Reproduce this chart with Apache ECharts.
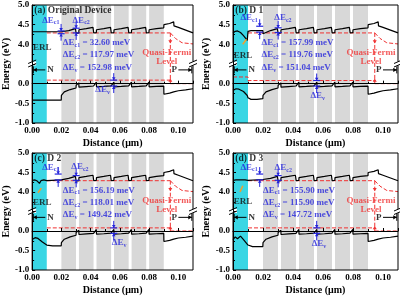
<!DOCTYPE html>
<html>
<head>
<meta charset="utf-8">
<script src="https://cdn.jsdelivr.net/npm/echarts@6/dist/echarts.min.js"></script>
<style>
  html, body { margin: 0; padding: 0; background: #fff; }
  #chart { width: 400px; height: 296px; }
</style>
</head>
<body>
<div id="chart"></div>
<script>
// 标题与ΔE数值
const titles = ["(a) Original Device", "(b) D 1", "(c) D 2", "(d) D 3"];
const dEc1 = ["32.60", "157.99", "156.19", "155.90"];
const dEc2 = ["117.97", "119.76", "118.01", "115.90"];
const dEv = ["152.98", "151.04", "149.42", "147.72"];

// 区域 (μm)
const erlRange = [0, 0.01];
const barriers = [[0.02, 0.03], [0.032, 0.042], [0.044, 0.054], [0.056, 0.066], [0.068, 0.078], [0.08, 0.09]];

// 导带 ERL 段
const ecHeadA = [[0, 4.32], [0.0199, 4.32], [0.02, 4.27]];
const ecHeadB = [[0, 4.29], [0.0015, 4.33], [0.003, 4.34], [0.005, 4.3], [0.007, 4.22], [0.0095, 4.1], [0.0099, 4.08], [0.01, 4.33], [0.012, 4.35], [0.0199, 4.35], [0.02, 4.27]];
const ecHeadC = [[0, 4.3], [0.001, 4.27], [0.002, 4.31], [0.0035, 4.28], [0.005, 4.22], [0.006, 4.29], [0.008, 4.31], [0.01, 4.29], [0.0199, 4.31], [0.02, 4.27]];
const ecHeadD = [[0, 4.3], [0.001, 4.27], [0.002, 4.31], [0.003, 4.27], [0.004, 4.31], [0.005, 4.26], [0.006, 4.31], [0.007, 4.27], [0.008, 4.31], [0.009, 4.28], [0.01, 4.3], [0.0199, 4.32], [0.02, 4.27]];
// 价带 ERL 段
const evHeadA = [[0, -0.42], [0.0199, -0.42], [0.02, -0.3]];
const evHeadB = [[0, -0.17], [0.002, -0.13], [0.004, -0.14], [0.007, -0.2], [0.0095, -0.3], [0.01, -0.36], [0.012, -0.4], [0.016, -0.4], [0.0199, -0.38], [0.02, -0.3]];
const evHeadC = [[0, -0.22], [0.002, -0.17], [0.004, -0.19], [0.007, -0.28], [0.01, -0.36], [0.014, -0.38], [0.0199, -0.38], [0.02, -0.3]];
const evHeadD = [[0, -0.22], [0.0015, -0.15], [0.003, -0.2], [0.005, -0.13], [0.007, -0.22], [0.01, -0.36], [0.013, -0.4], [0.0199, -0.4], [0.02, -0.3]];

// MQW + EBL + P 段
const ecMqw = [
  [0.0205, 4.29], [0.025, 4.35], [0.0296, 4.4], [0.03, 4.42],
  [0.0301, 4.28], [0.0319, 4.29], [0.032, 4.37], [0.037, 4.4], [0.0416, 4.43], [0.042, 4.45],
  [0.0421, 4.29], [0.0439, 4.3], [0.044, 4.37], [0.049, 4.4], [0.0536, 4.43], [0.054, 4.45],
  [0.0541, 4.29], [0.0559, 4.3], [0.056, 4.37], [0.061, 4.4], [0.0656, 4.43], [0.066, 4.45],
  [0.0661, 4.29], [0.0679, 4.3], [0.068, 4.37], [0.073, 4.4], [0.0776, 4.43], [0.078, 4.45],
  [0.0781, 4.29], [0.0799, 4.3], [0.08, 4.37], [0.085, 4.4], [0.09, 4.42],
  [0.0901, 4.5], [0.094, 4.53], [0.0968, 4.57], [0.097, 4.47], [0.1, 4.43], [0.105, 4.36], [0.11, 4.29]
];
const evMqw = [
  [0.0205, -0.27], [0.022, -0.21], [0.026, -0.15], [0.03, -0.11],
  [0.0301, -0.04], [0.0319, 0.02], [0.032, -0.09], [0.037, -0.075], [0.042, -0.06],
  [0.0421, -0.01], [0.0439, 0.04], [0.044, -0.08], [0.049, -0.07], [0.054, -0.055],
  [0.0541, -0.01], [0.0559, 0.04], [0.056, -0.08], [0.061, -0.07], [0.066, -0.055],
  [0.0661, -0.01], [0.0679, 0.04], [0.068, -0.08], [0.073, -0.07], [0.078, -0.055],
  [0.0781, -0.01], [0.0799, 0.04], [0.08, -0.08], [0.085, -0.07], [0.09, -0.06],
  [0.0901, -0.27], [0.094, -0.24], [0.0968, -0.21], [0.097, -0.19], [0.1, -0.18], [0.105, -0.16], [0.11, -0.13]
];

// 准费米能级
const fnLevel = [[0.01, 4.29], [0.0945, 4.29]];
const fnTail = [[0.0945, 4.29], [0.098, 4.15], [0.1025, 4.04], [0.11, 4.01]];
const fpLevelA = [[0.01, 0.09], [0.0945, 0.09]];
const fpLevelB = [[0, 0.17], [0.01, 0.17], [0.01, 0.08], [0.0945, 0.08]];
const fpLevelC = [[0.01, 0.08], [0.0945, 0.08]];
const fpLevelD = [[0.01, 0.08], [0.0945, 0.08]];
const fpTail = [[0.0945, 0.0], [0.11, 0.0]];
const qflLink = [[0.0945, 4.29], [0.0945, 0.0]];

// ΔE 标记 [x, 上, 下]
const markEc1 = [[0.0198, 4.34, 4.27], [0.0178, 4.46, 4.31], [0.0178, 4.46, 4.31], [0.0178, 4.46, 4.31]];
const markEc2 = [[0.0301, 4.41, 4.29], [0.0301, 4.42, 4.3], [0.0301, 4.42, 4.3], [0.0301, 4.42, 4.3]];
const markEv = [[0.0558, 0.09, -0.06], [0.0558, 0.08, -0.06], [0.0558, 0.08, -0.06], [0.0558, 0.08, -0.06]];
// 标签位置
const labEc1 = [[0.0128, 4.6], [0.0107, 4.66], [0.0128, 4.62], [0.0107, 4.62]];
const labEc2 = [[0.0335, 4.6], [0.0333, 4.66], [0.0327, 4.64], [0.0335, 4.6]];
const labEv = [[0.0482, -0.16], [0.0565, -0.33], [0.0595, -0.32], [0.0573, -0.34]];
const blockX = [0.021, 0.019, 0.021, 0.02];
const blockE = [4.03, 3.715, 0.397];
const erlPos = [[0.0005, 3.91], [0.0005, 3.7], [0.0005, 3.73], [0.0005, 3.75]];
const orangeMark = [null, [0.0065, 4.0, 0.009, 4.13], [0.004, 3.98, 0.0063, 4.1], [0.0047, 4.0, 0.0065, 4.16]];

const FONT = "Liberation Serif";
const BLUE = "#2424dc";
const RED = "#f03232";
const CYAN = "#3ad6e4";
const GRAY = "#d8d8d8";

// 断轴映射：上段 3.5~5.0 接在 0.5 之上
const m = (e) => (e > 2 ? e - 3 : e);
const mp = (arr) => arr.map((p) => [p[0], m(p[1])]);

const grids = [
  { left: 29, top: 5, width: 164, height: 118 },
  { left: 233, top: 5, width: 165, height: 118 },
  { left: 29, top: 153, width: 164, height: 118 },
  { left: 233, top: 153, width: 165, height: 118 },
];

const ecHeads = [ecHeadA, ecHeadB, ecHeadC, ecHeadD];
const evHeads = [evHeadA, evHeadB, evHeadC, evHeadD];
const fpLevels = [fpLevelA, fpLevelB, fpLevelC, fpLevelD];

const bold = (size, color) => ({ fontFamily: FONT, fontWeight: "bold", fontSize: size, color: color || "#000" });

const rich = {
  b: { ...bold(9, BLUE), lineHeight: 10, verticalAlign: "top" },
  s: { ...bold(6, BLUE), lineHeight: 6, verticalAlign: "bottom", padding: [4, 0, 0, 0] },
};

const txt = (x, e, text, style, align) => ({
  value: [x, m(e)],
  label: { show: true, position: "inside", align: align || "left", verticalAlign: "middle", formatter: text, ...style },
});

const tri = (x, y, dir, s) => {
  // 箭头三角
  if (dir === "down") return [[x, y], [x - s, y - s * 1.6], [x + s, y - s * 1.6]];
  if (dir === "up") return [[x, y], [x - s, y + s * 1.6], [x + s, y + s * 1.6]];
  if (dir === "left") return [[x, y], [x + s * 1.6, y - s], [x + s * 1.6, y + s]];
  return [[x, y], [x - s * 1.6, y - s], [x - s * 1.6, y + s]];
};

const lineSeries = (i, data, color, width, dashed, z) => ({
  type: "line",
  xAxisIndex: i,
  yAxisIndex: i,
  data: mp(data),
  showSymbol: false,
  symbol: "none",
  silent: true,
  animation: false,
  z: z || 3,
  lineStyle: { color, width, type: dashed ? [4, 2] : "solid" },
});

const series = [];
for (let i = 0; i < 4; i++) {
  // 背景色块
  const blocks = [[erlRange[0], erlRange[1], 1]].concat(barriers.map((b) => [b[0], b[1], 0]));
  series.push({
    type: "custom",
    xAxisIndex: i,
    yAxisIndex: i,
    silent: true,
    animation: false,
    z: 1,
    data: blocks,
    renderItem: (params, api) => {
      const p0 = api.coord([api.value(0), 2]);
      const p1 = api.coord([api.value(1), -1]);
      return {
        type: "rect",
        shape: { x: p0[0], y: p0[1], width: p1[0] - p0[0], height: p1[1] - p0[1] },
        style: { fill: api.value(2) === 1 ? CYAN : GRAY },
      };
    },
  });

  series.push(lineSeries(i, ecHeads[i].concat(ecMqw), "#000", 1.2));
  series.push(lineSeries(i, evHeads[i].concat(evMqw), "#000", 1.2));
  series.push(lineSeries(i, fnLevel, RED, 1, true, 2));
  series.push(lineSeries(i, fnTail, RED, 1, true, 2));
  series.push(lineSeries(i, fpLevels[i], RED, 1, true, 2));
  series.push(lineSeries(i, fpTail, RED, 1, true, 2));
  series.push(lineSeries(i, qflLink, RED, 1, true, 2));

  // 注释图形：断轴、N/P 箭头、ΔE 标记、橙色标记
  const anno = [
    [0, 0, 0.5, 0, 0],
    [0, 0.11, 0.5, 0, 0],
    [1, 0.009, m(0.35), 0.0008, 0],
    [1, 0.1, m(0.35), 0.1092, 0],
    [2, markEc1[i][0], m(markEc1[i][1]), m(markEc1[i][2]), 0],
    [2, markEc2[i][0], m(markEc2[i][1]), m(markEc2[i][2]), 0],
    [2, markEv[i][0], m(markEv[i][1]), m(markEv[i][2]), 0],
    [3, 0.0945, m(4.02), 0, 0],
    [4, 0.0945, m(0.13), 0, 0],
  ];
  if (orangeMark[i]) {
    const o = orangeMark[i];
    anno.push([5, o[0], m(o[1]), o[2], m(o[3])]);
  }
  series.push({
    type: "custom",
    xAxisIndex: i,
    yAxisIndex: i,
    silent: true,
    animation: false,
    clip: false,
    z: 6,
    data: anno,
    renderItem: (params, api) => {
      const k = api.value(0);
      const p = api.coord([api.value(1), api.value(2)]);
      if (k === 0) {
        return {
          type: "group",
          children: [
            { type: "rect", shape: { x: p[0] - 4, y: p[1] - 2.5, width: 8, height: 4 }, style: { fill: "#fff" } },
            { type: "line", shape: { x1: p[0] - 4, y1: p[1] - 0.5, x2: p[0] + 4, y2: p[1] - 4 }, style: { stroke: "#000", lineWidth: 1 } },
            { type: "line", shape: { x1: p[0] - 4, y1: p[1] + 3, x2: p[0] + 4, y2: p[1] - 0.5 }, style: { stroke: "#000", lineWidth: 1 } },
          ],
        };
      }
      if (k === 1) {
        const q = api.coord([api.value(3), api.value(2)]);
        const dir = q[0] < p[0] ? "left" : "right";
        return {
          type: "group",
          children: [
            { type: "line", shape: { x1: p[0], y1: p[1], x2: q[0], y2: q[1] }, style: { stroke: "#000", lineWidth: 1 } },
            { type: "polygon", shape: { points: tri(q[0], q[1], dir, 2.2) }, style: { fill: "#000" } },
            { type: "line", shape: { x1: q[0], y1: q[1] - 3.5, x2: q[0], y2: q[1] + 3.5 }, style: { stroke: "#000", lineWidth: 1 } },
          ],
        };
      }
      if (k === 2) {
        const b = api.coord([api.value(1), api.value(3)]);
        const x = p[0];
        return {
          type: "group",
          children: [
            { type: "line", shape: { x1: x, y1: p[1] - 7, x2: x, y2: p[1] }, style: { stroke: BLUE, lineWidth: 1 } },
            { type: "polygon", shape: { points: tri(x, p[1], "down", 1.8) }, style: { fill: BLUE } },
            { type: "line", shape: { x1: x - 3.5, y1: p[1], x2: x + 3.5, y2: p[1] }, style: { stroke: BLUE, lineWidth: 1.2 } },
            { type: "line", shape: { x1: x - 3.5, y1: b[1], x2: x + 3.5, y2: b[1] }, style: { stroke: BLUE, lineWidth: 1.2 } },
            { type: "line", shape: { x1: x, y1: b[1], x2: x, y2: b[1] + 7 }, style: { stroke: BLUE, lineWidth: 1 } },
            { type: "polygon", shape: { points: tri(x, b[1], "up", 1.8) }, style: { fill: BLUE } },
          ],
        };
      }
      if (k === 3 || k === 4) {
        return { type: "polygon", shape: { points: tri(p[0], p[1], k === 3 ? "down" : "up", 2) }, style: { fill: RED } };
      }
      const q = api.coord([api.value(3), api.value(4)]);
      return { type: "line", shape: { x1: p[0], y1: p[1], x2: q[0], y2: q[1] }, style: { stroke: "#f0a030", lineWidth: 1.6 } };
    },
  });

  // 文字
  const sub = (s) => "{b|ΔE}{s|" + s + "}";
  const texts = [
    txt(0.0015, 4.87, titles[i], { ...bold(9.5) }),
    txt(erlPos[i][0], erlPos[i][1], "ERL", { ...bold(9, "#111") }),
    txt(0.0125, 0.35, "N", { ...bold(9) }, "center"),
    txt(0.0972, 0.35, "P", { ...bold(9) }, "center"),
    txt(0.092, 3.78, "Quasi-Fermi", { ...bold(9, RED) }, "center"),
    txt(0.092, 3.55, "Level", { ...bold(9, RED) }, "center"),
    txt(labEc1[i][0], labEc1[i][1], sub("c1"), { rich }, "center"),
    txt(labEc2[i][0], labEc2[i][1], sub("c2"), { rich }, "center"),
    txt(labEv[i][0], labEv[i][1], sub("v"), { rich }, "center"),
    txt(blockX[i], blockE[0], sub("c1") + "{b| = " + dEc1[i] + " meV}", { rich }),
    txt(blockX[i], blockE[1], sub("c2") + "{b| = " + dEc2[i] + " meV}", { rich }),
    txt(blockX[i], blockE[2], sub("v") + "{b| = " + dEv[i] + " meV}", { rich }),
  ];
  series.push({
    type: "scatter",
    xAxisIndex: i,
    yAxisIndex: i,
    symbolSize: 0,
    silent: true,
    animation: false,
    z: 8,
    data: texts,
  });
}

const chart = echarts.init(document.getElementById("chart"), null, { renderer: "canvas" });
chart.setOption({
  animation: false,
  backgroundColor: "#fff",
  grid: grids.map((g) => ({ ...g, show: true, borderColor: "#000", borderWidth: 1, backgroundColor: "transparent", z: 5 })),
  xAxis: grids.map((g, i) => ({
    gridIndex: i,
    type: "value",
    min: 0,
    max: 0.11,
    interval: 0.02,
    name: "Distance (μm)",
    nameLocation: "middle",
    nameGap: 15,
    nameTextStyle: bold(10),
    axisLine: { show: true, lineStyle: { color: "#000", width: 1 } },
    axisTick: { show: true, inside: true, length: 3, lineStyle: { color: "#000" } },
    minorTick: { show: true, splitNumber: 2, length: 2, lineStyle: { color: "#000" } },
    axisLabel: { ...bold(9), margin: 3, showMaxLabel: false, formatter: (v) => v.toFixed(2) },
    splitLine: { show: false },
    z: 7,
  })),
  yAxis: grids.map((g, i) => ({
    gridIndex: i,
    type: "value",
    min: -1,
    max: 2,
    interval: 0.5,
    name: "Energy (eV)",
    nameLocation: "middle",
    nameGap: 21,
    nameTextStyle: bold(10),
    axisLine: { show: true, lineStyle: { color: "#000", width: 1 } },
    axisTick: { show: true, inside: true, length: 3, lineStyle: { color: "#000" } },
    minorTick: { show: true, splitNumber: 2, length: 2, lineStyle: { color: "#000" } },
    axisLabel: {
      ...bold(9),
      margin: 3,
      formatter: (v) => (Math.abs(v - 0.5) < 1e-6 ? "" : (v > 0.5 ? v + 3 : v).toFixed(1)),
    },
    splitLine: { show: false },
    z: 7,
  })),
  series,
});
</script>
</body>
</html>
